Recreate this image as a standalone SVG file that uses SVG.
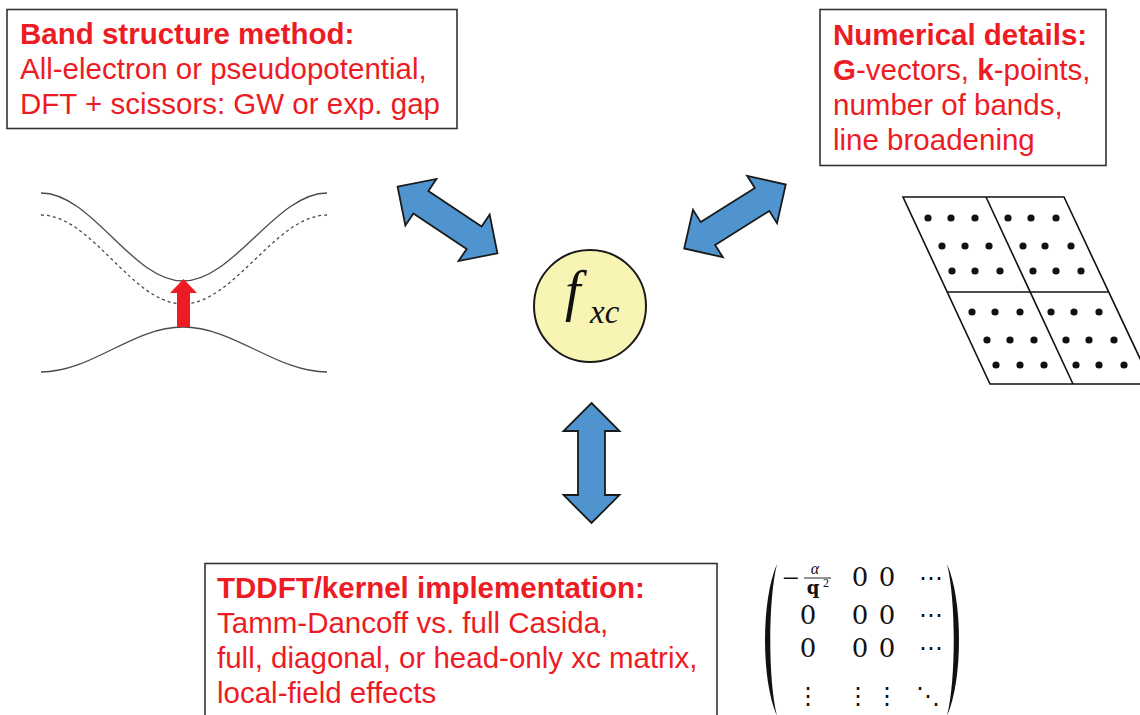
<svg xmlns="http://www.w3.org/2000/svg" xmlns:xlink="http://www.w3.org/1999/xlink" width="1140" height="715" viewBox="0 0 1140 715">
<style>
.box{fill:#fff;stroke:#333;stroke-width:1.6}
.t{font-family:"Liberation Sans",Arial,sans-serif;font-size:29.5px;fill:#ed1c24}
.b{font-weight:bold}
.band{fill:none;stroke:#4a4a4a;stroke-width:1.3}
.grid{fill:none;stroke:#111;stroke-width:1.6}
.dot{fill:#111}
.m{font-family:"Liberation Serif","DejaVu Serif",serif;fill:#111}
.z{font-family:"DejaVu Serif","Liberation Serif",serif;fill:#111;font-weight:300}
.qb{font-family:"DejaVu Serif","Liberation Serif",serif;fill:#111;font-weight:bold}
.arr{fill:#4f93cf;stroke:#1a1a1a;stroke-width:1.8;stroke-linejoin:miter}
</style>
<defs>
<polygon id="dbl" points="-60,0 -32,-28 -32,-13.5 32,-13.5 32,-28 60,0 32,28 32,13.5 -32,13.5 -32,28"/>
</defs>
<rect width="1140" height="715" fill="#fff"/>

<g id="node-band-structure">
<rect class="box" x="7" y="9.5" width="450" height="119"/>
<text class="t b" x="20" y="44">Band structure method:</text>
<text class="t" x="20" y="79">All-electron or pseudopotential,</text>
<text class="t" x="20" y="114">DFT + scissors: GW or exp. gap</text>
</g>

<g id="node-numerical">
<rect class="box" x="820" y="9.5" width="286" height="156"/>
<text class="t b" x="833" y="45">Numerical details:</text>
<text class="t" x="833" y="80"><tspan class="b">G</tspan>-vectors, <tspan class="b">k</tspan>-points,</text>
<text class="t" x="833" y="115">number of bands,</text>
<text class="t" x="833" y="150">line broadening</text>
</g>

<g id="node-tddft">
<rect class="box" x="205" y="563.5" width="512" height="160"/>
<text class="t b" x="217" y="598">TDDFT/kernel implementation:</text>
<text class="t" x="217" y="633">Tamm-Dancoff vs. full Casida,</text>
<text class="t" x="217" y="668">full, diagonal, or head-only xc matrix,</text>
<text class="t" x="217" y="703">local-field effects</text>
</g>

<g id="node-fxc">
<circle cx="590" cy="306" r="56" fill="#f8f4b4" stroke="#1a1a1a" stroke-width="2"/>
<text class="m" x="565" y="310" font-size="56" font-style="italic">f</text>
<text class="m" x="590" y="323" font-size="33" font-style="italic">xc</text>
</g>

<g id="band-diagram">
<path class="band" d="M41,193 C92,193 132,281 183,281 C234,281 276,193 327,193"/>
<path class="band" d="M41,215 C92,215 132,304 183,304 C234,304 276,215 327,215" stroke-dasharray="3,3"/>
<path class="band" d="M41,372 C92,372 132,327 183,327 C234,327 276,372 327,372"/>
<polygon points="177,327 190,327 190,293 197,293 183.5,279 170,293 177,293" fill="#ed1c24"/>
</g>

<g id="k-grid">
<polygon class="grid" points="903,197 1064,197 1152,384 990,384"/>
<line class="grid" x1="986" y1="197" x2="1073" y2="384"/>
<line class="grid" x1="947" y1="292" x2="1108" y2="292"/>
<g class="dot">
<circle cx="928" cy="218" r="3.6"/><circle cx="951" cy="218" r="3.6"/><circle cx="975" cy="218" r="3.6"/>
<circle cx="942" cy="246" r="3.6"/><circle cx="965" cy="246" r="3.6"/><circle cx="989" cy="246" r="3.6"/>
<circle cx="952" cy="271" r="3.6"/><circle cx="975" cy="271" r="3.6"/><circle cx="1000" cy="271" r="3.6"/>
<circle cx="1008" cy="218" r="3.6"/><circle cx="1031" cy="218" r="3.6"/><circle cx="1056" cy="218" r="3.6"/>
<circle cx="1023" cy="246" r="3.6"/><circle cx="1045" cy="246" r="3.6"/><circle cx="1071" cy="246" r="3.6"/>
<circle cx="1033" cy="271" r="3.6"/><circle cx="1056" cy="271" r="3.6"/><circle cx="1081" cy="271" r="3.6"/>
<circle cx="972" cy="312" r="3.6"/><circle cx="995" cy="312" r="3.6"/><circle cx="1020" cy="312" r="3.6"/>
<circle cx="987" cy="340" r="3.6"/><circle cx="1010" cy="340" r="3.6"/><circle cx="1034" cy="340" r="3.6"/>
<circle cx="996" cy="365" r="3.6"/><circle cx="1020" cy="365" r="3.6"/><circle cx="1044" cy="365" r="3.6"/>
<circle cx="1051" cy="312" r="3.6"/><circle cx="1074" cy="312" r="3.6"/><circle cx="1099" cy="312" r="3.6"/>
<circle cx="1066" cy="340" r="3.6"/><circle cx="1089" cy="340" r="3.6"/><circle cx="1114" cy="340" r="3.6"/>
<circle cx="1076" cy="365" r="3.6"/><circle cx="1099" cy="365" r="3.6"/><circle cx="1124" cy="365" r="3.6"/>
</g>
</g>

<g id="xc-matrix">
<path d="M777,564 C761,600 761,680 777,716 C768,680 768,600 777,564 Z" fill="#111"/>
<path d="M947,564 C963,600 963,680 947,716 C956,680 956,600 947,564 Z" fill="#111"/>
<text class="m" x="791" y="588" font-size="30" text-anchor="middle">−</text>
<text class="m" x="815" y="574" font-size="16" font-style="italic" text-anchor="middle">α</text>
<line x1="804" y1="578" x2="831" y2="578" stroke="#111" stroke-width="0.9"/>
<text class="qb" x="813" y="594" font-size="18" text-anchor="middle">q</text>
<text class="m" x="826" y="587" font-size="12" text-anchor="middle">2</text>
<g font-size="26" text-anchor="middle" class="z">
<text x="860" y="586">0</text><text x="887" y="586">0</text>
<text x="808" y="624">0</text><text x="860" y="624">0</text><text x="887" y="624">0</text>
<text x="808" y="657">0</text><text x="860" y="657">0</text><text x="887" y="657">0</text>
</g>
<g font-size="24" text-anchor="middle" class="m" style="font-family:'DejaVu Serif',serif">
<text x="931" y="586">⋯</text>
<text x="931" y="623">⋯</text>
<text x="931" y="656">⋯</text>
<text x="808" y="704">⋮</text>
<text x="858" y="704">⋮</text>
<text x="887" y="704">⋮</text>
<text x="928" y="704">⋱</text>
</g>
</g>

<g id="connectors">
<use xlink:href="#dbl" class="arr" transform="translate(447.5,220) rotate(33.7)"/>
<use xlink:href="#dbl" class="arr" transform="translate(735,216.5) rotate(-32.2)"/>
<use xlink:href="#dbl" class="arr" transform="translate(591.5,463) rotate(90)"/>
</g>
</svg>
